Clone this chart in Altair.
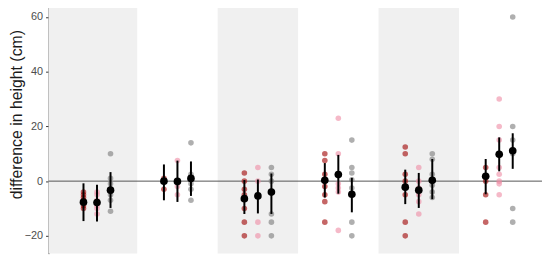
import altair as alt
import pandas as pd

groups = [1, 2, 3, 4, 5, 6]
series = ["dark", "pink", "gray"]
series_colors = ["#9e0000", "#ee8aa3", "#7a7a7a"]
shaded_groups = [1, 3, 5]
y_ticks = [-20, 0, 20, 40, 60]

red_vals = [
    [-4, -5, -6, -7, -8, -9, -10],
    [1, 0, -3],
    [3, 0, -3, -5, -10, -15, -20],
    [10, 7.5, 2.5, 0, -2, -5, -7.5, -15],
    [12.5, 10, 2.5, 0, -5, -15, -20],
    [5, 0, -5, -15],
]
pink_vals = [
    [-4, -5, -7, -9, -10, -12],
    [7.5, 0, -2, -5],
    [5, 0, -15, -20],
    [23, 10, -1, -2.5, -4, -18],
    [5, 0, -2.5, -5, -7.5, -12],
    [30, 20, 15, 5, 2.5, 0, -1, -5],
]
gray_vals = [
    [10, 1, -1, -3, -5, -7, -11],
    [14, 2.5, 1, -1, -3, -7],
    [5, 2.5, 0, -12, -15, -20],
    [15, 5, 3, 0.5, -2.5, -15, -20],
    [10, 8, 2.5, -1.5, -4, -6],
    [60, 20, 15, 10, -10, -15],
]

red_mean = [-7.7, 0.0, -6.4, 0.3, -2.2, 1.8]
red_lo = [-14.6, -7.0, -12.0, -6.0, -8.4, -4.8]
red_hi = [-0.8, 6.1, 0.4, 6.6, 4.2, 8.1]
pink_mean = [-7.8, -0.1, -5.4, 2.4, -3.3, 9.8]
pink_lo = [-14.8, -7.6, -11.8, -4.6, -9.8, 3.6]
pink_hi = [-1.3, 7.5, 0.6, 9.6, 3.0, 16.0]
gray_mean = [-3.3, 1.0, -4.0, -4.8, 0.3, 11.1]
gray_lo = [-9.8, -5.4, -12.0, -11.4, -6.6, 4.5]
gray_hi = [3.3, 7.2, 2.8, 1.2, 8.1, 17.5]

all_vals = [red_vals, pink_vals, gray_vals]
all_mean = [red_mean, pink_mean, gray_mean]
all_lo = [red_lo, pink_lo, gray_lo]
all_hi = [red_hi, pink_hi, gray_hi]

pt_rows, sum_rows = [], []
for gi, g in enumerate(groups):
    for si, s in enumerate(series):
        for v in all_vals[si][gi]:
            pt_rows.append({"group": g, "series": s, "si": si, "value": v})
        sum_rows.append({"group": g, "series": s, "si": si,
                         "mean": all_mean[si][gi], "lo": all_lo[si][gi], "hi": all_hi[si][gi]})
pts = pd.DataFrame(pt_rows)
sums = pd.DataFrame(sum_rows)
bands = pd.DataFrame({"group": shaded_groups})

W, H = 499, 251
xscale = alt.Scale(domain=[0.3976, 6.532], nice=False, zero=False)
yscale = alt.Scale(domain=[-26.5, 64.24], nice=False, zero=False)
cscale = alt.Scale(domain=series, range=series_colors)
off = "datum.group + (datum.si - 1) * 0.168"

band_layer = alt.Chart(bands).transform_calculate(
    x1="datum.group == 1 ? 0 : datum.group - 0.5", x2="datum.group + 0.5"
).mark_rect(color="#f0f0f0", clip=True).encode(
    x=alt.X("x1:Q", scale=xscale, axis=None),
    x2="x2:Q",
    y=alt.value(0),
    y2=alt.value(H),
)

zero_layer = alt.Chart(pd.DataFrame({"z": [0]})).mark_rule(color="#555555", strokeWidth=1).encode(
    y=alt.Y("z:Q", scale=yscale,
            axis=alt.Axis(values=y_ticks, title="difference in height (cm)", grid=False)),
    x=alt.value(0), x2=alt.value(W),
)

top_layer = alt.Chart(pd.DataFrame({"z": [0]})).mark_rule(color="#b0b0b0", strokeWidth=1).encode(
    y=alt.value(0.5), x=alt.value(0), x2=alt.value(W),
)

point_layer = alt.Chart(pts).transform_calculate(x=off).mark_circle(
    size=32, opacity=0.6
).encode(
    x=alt.X("x:Q", scale=xscale),
    y=alt.Y("value:Q", scale=yscale),
    color=alt.Color("series:N", scale=cscale, legend=None),
)

err_layer = alt.Chart(sums).transform_calculate(x=off).mark_rule(
    color="black", strokeWidth=2
).encode(
    x=alt.X("x:Q", scale=xscale),
    y=alt.Y("lo:Q", scale=yscale),
    y2="hi:Q",
)

mean_layer = alt.Chart(sums).transform_calculate(x=off).mark_circle(
    size=60, color="black", opacity=1
).encode(
    x=alt.X("x:Q", scale=xscale),
    y=alt.Y("mean:Q", scale=yscale),
)

chart = alt.layer(
    band_layer, zero_layer, top_layer, point_layer, err_layer, mean_layer
).properties(
    width=W, height=H,
    autosize=alt.AutoSizeParams(type="none"),
    padding={"left": 41, "top": -4, "right": 0, "bottom": 0},
).configure_view(stroke=None).configure_axis(
    domainColor="#222222", tickColor="#333333", tickSize=3,
    labelColor="#4d4d4d", labelFont="Liberation Sans", labelFontSize=11, labelPadding=3,
    titleFont="Liberation Sans", titleFontSize=16, titleFontWeight="normal", titleColor="#1a1a1a",
).configure_axisY(
    titleAngle=270, titleX=-27, titleY=110, titleAlign="center", titleBaseline="alphabetic",
)

chart.save("out.html", embed_options={"renderer": "svg", "actions": False})
